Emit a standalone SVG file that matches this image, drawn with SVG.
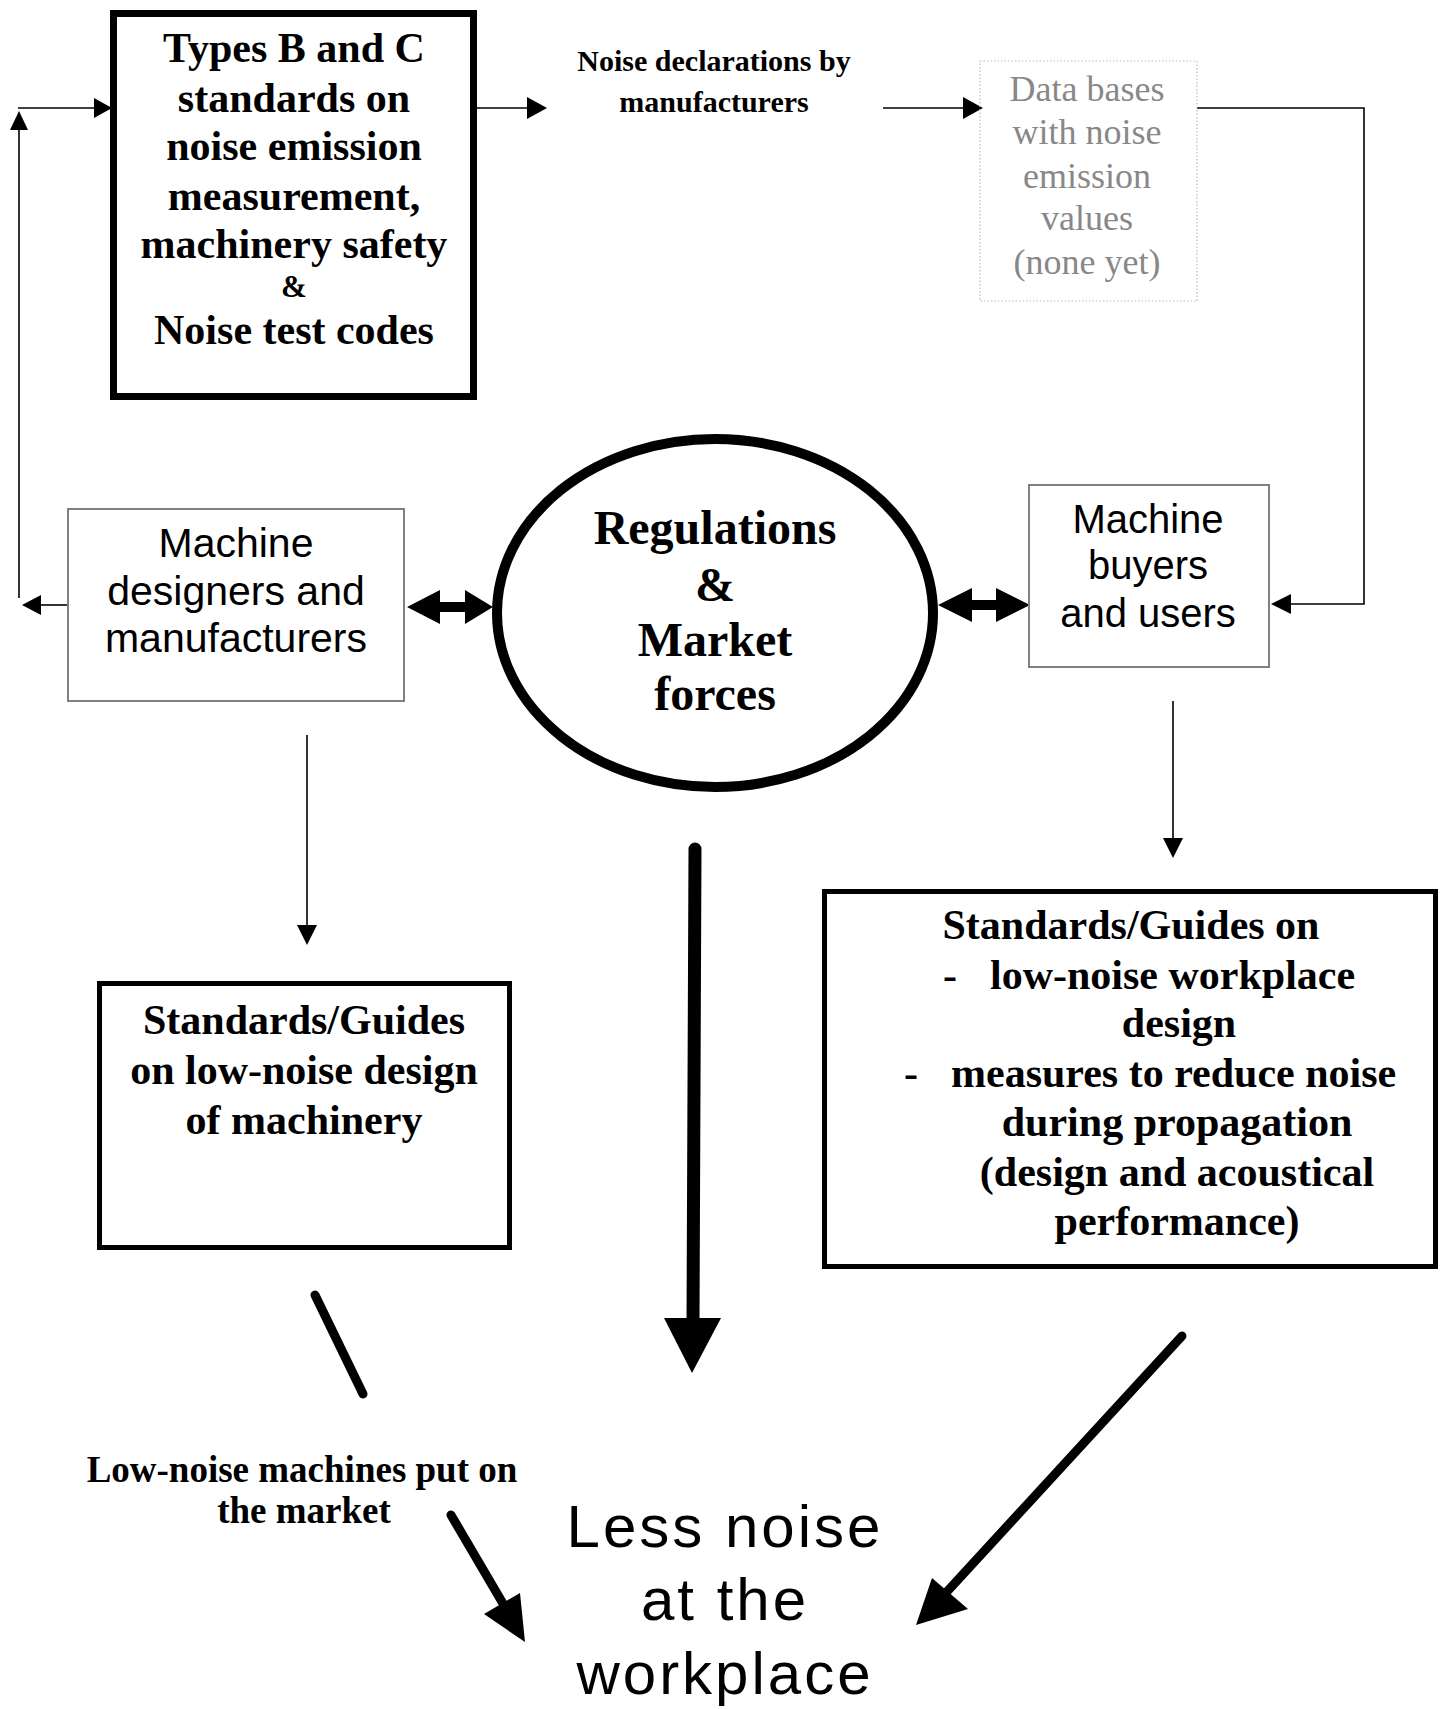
<svg xmlns="http://www.w3.org/2000/svg" width="1445" height="1709" viewBox="0 0 1445 1709">
<style>
.tb{font-family:"Liberation Serif","Times New Roman",serif;font-weight:bold;fill:#000;text-anchor:middle}
.tr{font-family:"Liberation Serif","Times New Roman",serif;fill:#888;text-anchor:middle}
.sa{font-family:"Liberation Sans",Arial,sans-serif;fill:#000;text-anchor:middle}
.st{text-anchor:start}
.thin{stroke:#000;stroke-width:1.6;fill:none}
.thick{stroke:#000;stroke-linecap:round;fill:none}
.head{fill:#000}
</style>
<rect width="1445" height="1709" fill="#fff"/>
<g id="connectors">
  <line class="thin" x1="19" y1="128" x2="19" y2="598"/>
  <polygon class="head" points="19,111 10,130 28,130"/>
  <line class="thin" x1="18" y1="108" x2="96" y2="108"/>
  <polygon class="head" points="112,108 94,98 94,118"/>
  <line class="thin" x1="40" y1="605" x2="68" y2="605"/>
  <polygon class="head" points="22,605 41,595 41,615"/>
  <line class="thin" x1="477" y1="108" x2="530" y2="108"/>
  <polygon class="head" points="547,108 527,97 527,119"/>
  <line class="thin" x1="883" y1="108" x2="965" y2="108"/>
  <polygon class="head" points="983,108 963,97 963,119"/>
  <polyline class="thin" points="1197,108 1364,108 1364,604 1290,604"/>
  <polygon class="head" points="1271,604 1291,594 1291,614"/>
  <polygon class="head" points="407,607 440,590 440,602 465,602 465,590 493,607 465,624 465,612 440,612 440,624"/>
  <polygon class="head" points="938,605 972,588 972,600 996,600 996,588 1030,605 996,622 996,610 972,610 972,622"/>
  <line class="thin" x1="307" y1="735" x2="307" y2="928"/>
  <polygon class="head" points="307,945 297,925 317,925"/>
  <line class="thin" x1="1173" y1="701" x2="1173" y2="842"/>
  <polygon class="head" points="1173,858 1163,838 1183,838"/>
  <line class="thick" stroke-width="13" x1="695" y1="849" x2="693" y2="1322"/>
  <polygon class="head" points="664,1318 721,1318 692,1373"/>
  <line class="thick" stroke-width="9" x1="315" y1="1295" x2="363" y2="1394"/>
  <line class="thick" stroke-width="9" x1="451" y1="1515" x2="505" y2="1607"/>
  <polygon class="head" points="525,1642 484,1614 520,1593"/>
  <line class="thick" stroke-width="9" x1="1182" y1="1336" x2="943" y2="1596"/>
  <polygon class="head" points="916,1625 932,1578 968,1609"/>
</g>
<g id="node-types-bc">
  <rect x="113.5" y="13.5" width="360" height="383" fill="none" stroke="#000" stroke-width="7"/>
  <text class="tb" x="294" y="62" font-size="42">Types B and C</text>
  <text class="tb" x="294" y="112" font-size="42">standards on</text>
  <text class="tb" x="294" y="160" font-size="42">noise emission</text>
  <text class="tb" x="294" y="210" font-size="42">measurement,</text>
  <text class="tb" x="294" y="258" font-size="42">machinery safety</text>
  <text class="tb" x="294" y="297" font-size="31">&amp;</text>
  <text class="tb" x="294" y="344" font-size="42">Noise test codes</text>
</g>
<g id="node-declarations">
  <text class="tb" x="714" y="71" font-size="30">Noise declarations by</text>
  <text class="tb" x="714" y="112" font-size="30">manufacturers</text>
</g>
<g id="node-databases">
  <rect x="980" y="61" width="217" height="240" fill="none" stroke="#bbb" stroke-width="1.2" stroke-dasharray="1.5,2"/>
  <text class="tr" x="1087" y="101" font-size="36">Data bases</text>
  <text class="tr" x="1087" y="144" font-size="36">with noise</text>
  <text class="tr" x="1087" y="188" font-size="36">emission</text>
  <text class="tr" x="1087" y="230" font-size="36">values</text>
  <text class="tr" x="1087" y="274" font-size="36">(none yet)</text>
</g>
<g id="node-designers">
  <rect x="68" y="509" width="336" height="192" fill="#fff" stroke="#808080" stroke-width="2"/>
  <text class="sa" x="236" y="557" font-size="41">Machine</text>
  <text class="sa" x="236" y="605" font-size="41">designers and</text>
  <text class="sa" x="236" y="652" font-size="41">manufacturers</text>
</g>
<g id="node-regulations">
  <ellipse cx="715" cy="613" rx="218" ry="174" fill="none" stroke="#000" stroke-width="10"/>
  <text class="tb" x="715" y="544" font-size="48">Regulations</text>
  <text class="tb" x="715" y="601" font-size="48">&amp;</text>
  <text class="tb" x="715" y="656" font-size="48">Market</text>
  <text class="tb" x="715" y="710" font-size="48">forces</text>
</g>
<g id="node-buyers">
  <rect x="1029" y="485" width="240" height="182" fill="#fff" stroke="#808080" stroke-width="2"/>
  <text class="sa" x="1148" y="533" font-size="40">Machine</text>
  <text class="sa" x="1148" y="579" font-size="40">buyers</text>
  <text class="sa" x="1148" y="627" font-size="40">and users</text>
</g>
<g id="node-lownoise-design">
  <rect x="99.5" y="983.5" width="410" height="264" fill="none" stroke="#000" stroke-width="5"/>
  <text class="tb" x="304" y="1034" font-size="42">Standards/Guides</text>
  <text class="tb" x="304" y="1084" font-size="42">on low-noise design</text>
  <text class="tb" x="304" y="1134" font-size="42">of machinery</text>
</g>
<g id="node-workplace-guides">
  <rect x="824.5" y="891.5" width="611" height="375" fill="none" stroke="#000" stroke-width="5"/>
  <text class="tb" x="1131" y="939" font-size="42">Standards/Guides on</text>
  <text class="tb" x="950" y="989" font-size="42">-</text>
  <text class="tb st" x="990" y="989" font-size="42">low-noise workplace</text>
  <text class="tb" x="1179" y="1037" font-size="42">design</text>
  <text class="tb" x="911" y="1087" font-size="42">-</text>
  <text class="tb st" x="951" y="1087" font-size="42">measures to reduce noise</text>
  <text class="tb" x="1177" y="1136" font-size="42">during propagation</text>
  <text class="tb" x="1177" y="1186" font-size="42">(design and acoustical</text>
  <text class="tb" x="1177" y="1235" font-size="42">performance)</text>
</g>
<g id="node-market">
  <text class="tb" x="302" y="1482" font-size="37">Low-noise machines put on</text>
  <text class="tb" x="304" y="1523" font-size="37">the market</text>
</g>
<g id="node-less-noise">
  <text class="sa" x="725" y="1547" font-size="60" letter-spacing="3">Less noise</text>
  <text class="sa" x="725" y="1620" font-size="60" letter-spacing="3">at the</text>
  <text class="sa" x="725" y="1694" font-size="60" letter-spacing="3">workplace</text>
</g>
</svg>
